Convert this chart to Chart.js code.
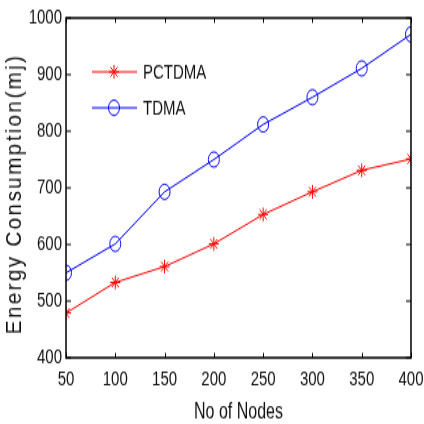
<!DOCTYPE html>
<html>
<head>
<meta charset="utf-8">
<script src="https://cdn.jsdelivr.net/npm/chart.js@4"></script>
<style>
	html, body { margin: 0; padding: 0; background: #fff; overflow: hidden; }
	#wrap { width: 424px; height: 424px; }
	/* the source figure was stretched vertically, so the canvas is too */
	#myChart { transform: scaleY(1.3811); transform-origin: 0 0; }
</style>
</head>
<body>
<div id="wrap"><canvas id="myChart" width="424" height="307"></canvas></div>
<script>
const nodes = [50, 100, 150, 200, 250, 300, 350, 400];
const pctdma = [479, 533, 561, 601, 653, 693, 731, 751];
const tdma = [550, 601, 693, 750, 812, 860, 911, 971];
const seriesNames = ['PCTDMA', 'TDMA'];
const yTitle = 'Energy Consumption(mj)';
const xTitle = 'No of Nodes';

const fontFamily = "'Liberation Sans', Arial, sans-serif";

function toPoints(xs, ys){
	return xs.map((x, i) => ({x: x, y: ys[i]}))
}

// y title is drawn letter spaced and tall like in the figure
const spacedTitle = {
	id: 'spacedTitle',
	afterLayout(chart) {
		const ys = chart.scales.y;
		if (ys._spaced) return;
		const orig = ys.drawTitle;
		ys.drawTitle = function(area) {
			const cx = this.left + 15;
			this.ctx.save();
			this.ctx.letterSpacing = '1.7px';
			this.ctx.translate(cx, 4.4);
			this.ctx.scale(1.5, 1);
			this.ctx.translate(-cx, 0);
			orig.call(this, area);
			this.ctx.restore();
		};
		ys._spaced = true;
	}
};

// box round the plot, inward ticks and the legend, drawn like MATLAB does
const matlabFrame = {
	id: 'matlabFrame',
	afterDraw(chart) {
		const ctx = chart.ctx;
		const a = chart.chartArea;
		const xs = chart.scales.x;
		const ys = chart.scales.y;
		ctx.save();
		ctx.strokeStyle = '#000';
		ctx.lineWidth = 1.5;
		ctx.strokeRect(a.left, a.top, a.right - a.left, a.bottom - a.top);
		ctx.lineWidth = 1;
		ctx.beginPath();
		xs.ticks.forEach(t => {
			const px = Math.round(xs.getPixelForValue(t.value)) + 0.5;
			ctx.moveTo(px, a.bottom); ctx.lineTo(px, a.bottom - 3.5);
			ctx.moveTo(px, a.top); ctx.lineTo(px, a.top + 3.5);
		});
		ys.ticks.forEach(t => {
			const py = ys.getPixelForValue(t.value);
			ctx.moveTo(a.left, py); ctx.lineTo(a.left + 5, py);
			ctx.moveTo(a.right, py); ctx.lineTo(a.right - 5, py);
		});
		ctx.stroke();

		// legend
		ctx.font = '15px ' + fontFamily;
		ctx.textBaseline = 'middle';
		ctx.textAlign = 'left';
		chart.data.datasets.forEach((ds, i) => {
			const y = 52 + i * 26;
			ctx.strokeStyle = ds.borderColor;
			ctx.lineWidth = 1;
			ctx.beginPath();
			ctx.moveTo(92, y); ctx.lineTo(137, y);
			ctx.stroke();
			ctx.fillStyle = ds.backgroundColor;
			Chart.helpers.drawPoint(ctx, {pointStyle: ds.pointStyle, radius: ds.pointRadius, borderWidth: 1}, 114, y);
			ctx.fillStyle = '#111';
			ctx.fillText(ds.label, 143, y + 1);
		});
		ctx.restore();
	}
};

const ctx = document.getElementById('myChart').getContext('2d');
new Chart(ctx, {
	type: 'line',
	data: {
		datasets: [{
			label: seriesNames[0],
			data: toPoints(nodes, pctdma),
			borderColor: '#ff0000',
			backgroundColor: '#ff0000',
			borderWidth: 1,
			pointStyle: 'star',
			pointRadius: 5,
			pointBorderWidth: 1,
			tension: 0
		}, {
			label: seriesNames[1],
			data: toPoints(nodes, tdma),
			borderColor: '#0000ff',
			backgroundColor: 'rgba(0,0,0,0)',
			borderWidth: 1,
			pointStyle: 'circle',
			pointRadius: 5.5,
			pointBorderWidth: 1,
			tension: 0
		}]
	},
	options: {
		responsive: false,
		animation: false,
		devicePixelRatio: 1,
		layout: { padding: { top: 11, right: 13, left: 0, bottom: 0 } },
		plugins: {
			legend: { display: false },
			tooltip: { enabled: false }
		},
		scales: {
			x: {
				type: 'linear',
				min: 50,
				max: 400,
				ticks: { stepSize: 50, padding: 7, color: '#111', font: { size: 15, family: fontFamily }, callback: v => String(v) },
				grid: { drawOnChartArea: false, drawTicks: false },
				border: { display: false },
				title: { display: true, text: xTitle, color: '#111', font: { size: 16, family: fontFamily, lineHeight: 1 }, padding: { top: 0, bottom: 0 } },
				afterFit(scale) { scale.height = 48; scale.paddingLeft = 0; scale.paddingRight = 0; }
			},
			y: {
				min: 400,
				max: 1000,
				ticks: { stepSize: 100, padding: 4, color: '#111', font: { size: 15, family: fontFamily }, callback: v => String(v) },
				grid: { drawOnChartArea: false, drawTicks: false },
				border: { display: false },
				title: { display: true, text: yTitle, color: '#111', font: { size: 15, family: fontFamily }, padding: { top: 6, bottom: 0 } },
				afterFit(scale) { scale.width = 66; }
			}
		}
	},
	plugins: [spacedTitle, matlabFrame]
});
</script>
</body>
</html>
